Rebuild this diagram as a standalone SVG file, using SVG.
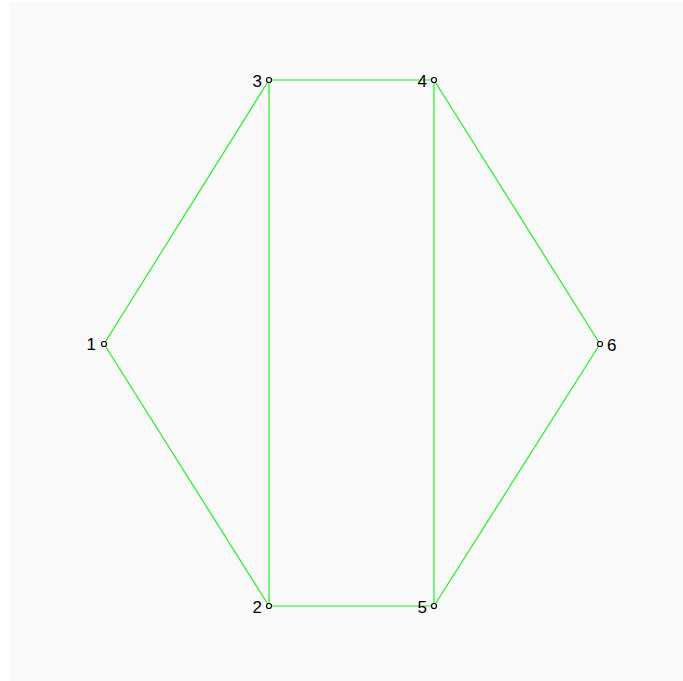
<svg xmlns="http://www.w3.org/2000/svg" width="683" height="681" viewBox="0 0 683 681">
<style>
.edge{stroke:#22ee22;stroke-width:1.2;fill:none}
.node circle{fill:#fff;stroke:#000;stroke-width:1.2}
.node text{font-family:"Liberation Sans",Arial,sans-serif;font-size:17px;fill:#000}
</style>
<rect width="683" height="681" fill="#fff"/>
<rect x="9" y="2" width="674" height="679" fill="#f9f9f9"/>
<g id="connectors">
<line class="edge" x1="104" y1="344" x2="269" y2="80"/>
<line class="edge" x1="104" y1="344" x2="269" y2="606"/>
<line class="edge" x1="269" y1="80" x2="434" y2="80"/>
<line class="edge" x1="269" y1="80" x2="269" y2="606"/>
<line class="edge" x1="269" y1="606" x2="434" y2="606"/>
<line class="edge" x1="434" y1="80" x2="434" y2="606"/>
<line class="edge" x1="434" y1="80" x2="600" y2="344"/>
<line class="edge" x1="434" y1="606" x2="600" y2="344"/>
</g>
<g id="node1" class="node"><circle cx="104" cy="344" r="2.5"/><text x="96" y="350" text-anchor="end">1</text></g>
<g id="node2" class="node"><circle cx="269" cy="606" r="2.5"/><text x="262" y="613" text-anchor="end">2</text></g>
<g id="node3" class="node"><circle cx="269" cy="80" r="2.5"/><text x="262" y="87" text-anchor="end">3</text></g>
<g id="node4" class="node"><circle cx="434" cy="80" r="2.5"/><text x="427" y="87" text-anchor="end">4</text></g>
<g id="node5" class="node"><circle cx="434" cy="606" r="2.5"/><text x="427" y="613" text-anchor="end">5</text></g>
<g id="node6" class="node"><circle cx="600" cy="344" r="2.5"/><text x="607" y="351">6</text></g>
</svg>
